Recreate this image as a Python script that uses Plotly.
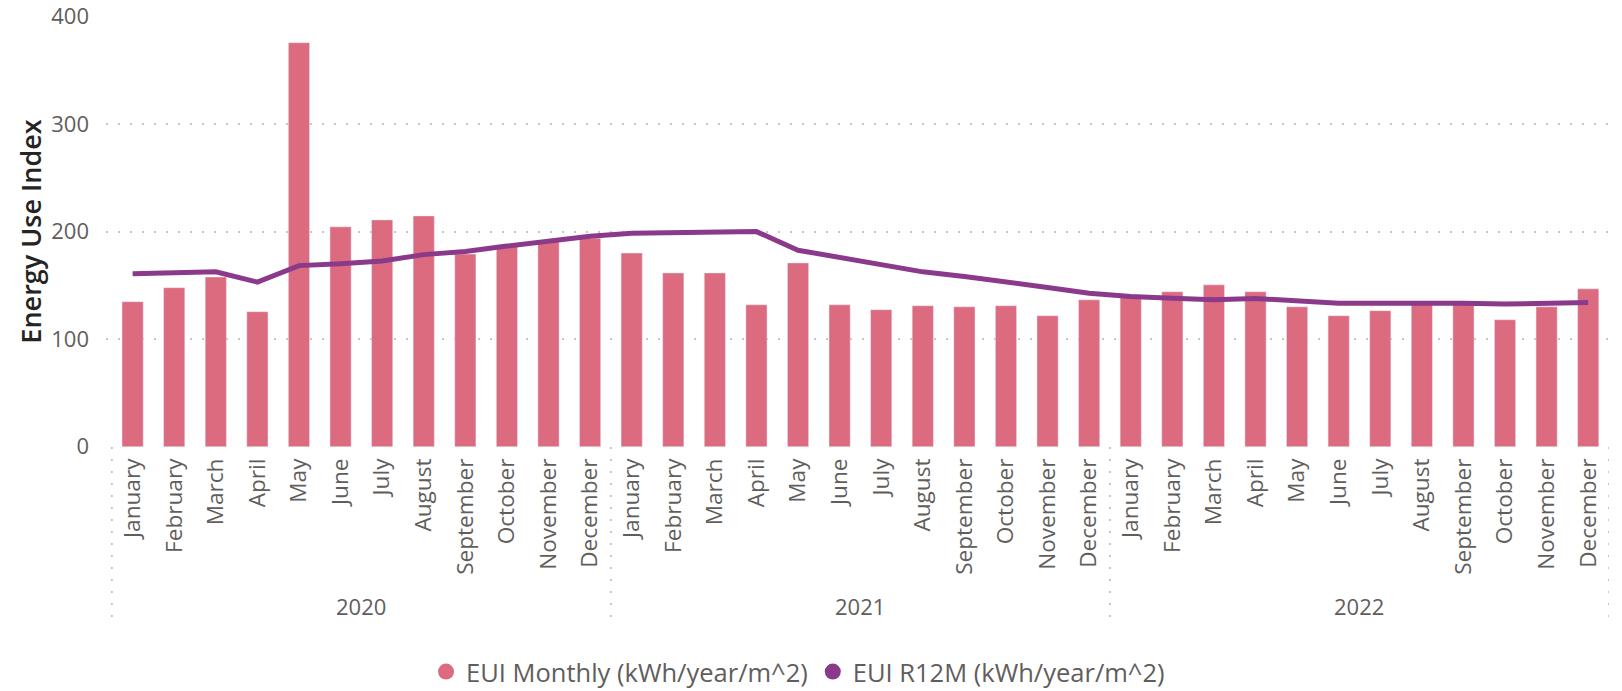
import plotly.graph_objects as go

years = ["2020", "2021", "2022"]
months = ["January", "February", "March", "April", "May", "June", "July",
          "August", "September", "October", "November", "December"]

eui_monthly = [134.8, 147.8, 157.7, 125.5, 375.5, 204.3, 210.8, 214.5, 179.0, 187.5, 191.0, 193.8,
               180.0, 161.5, 161.5, 131.9, 170.8, 131.9, 127.3, 131.0, 130.0, 131.0, 121.7, 136.5,
               139.0, 144.0, 150.4, 144.0, 130.0, 121.7, 126.4, 133.5, 132.5, 118.0, 130.0, 146.7]
eui_r12m = [160.8, 161.5, 162.5, 153.0, 168.3, 170.0, 172.5, 178.5, 181.5, 186.5, 190.5, 195.5,
            198.3, 198.9, 199.2, 199.9, 182.6, 176.0, 169.0, 162.5, 158.1, 153.5, 148.0, 142.7,
            139.6, 138.0, 136.5, 137.7, 135.0, 133.4, 133.4, 133.5, 133.4, 132.5, 133.4, 134.0]

y_ticks = [0, 100, 200, 300, 400]

BAR_COLOR = "#DD6B7F"
LINE_COLOR = "#8B3A8B"
GRID = "#C8C6C4"
TXT = "#605E5C"
FONT = "Open Sans"

n = len(years) * len(months)
x = list(range(n))
ticktext = months * len(years)

fig = go.Figure()
fig.add_trace(go.Bar(x=x, y=eui_monthly, marker_color=BAR_COLOR, showlegend=False,
                     name="EUI Monthly (kWh/year/m^2)"))
fig.add_trace(go.Scatter(x=x, y=eui_r12m, mode="lines", line=dict(color=LINE_COLOR, width=5),
                         showlegend=False, name="EUI R12M (kWh/year/m^2)"))
# legend entries (circle symbols)
fig.add_trace(go.Scatter(x=[None], y=[None], mode="markers", name="EUI Monthly (kWh/year/m^2)",
                         marker=dict(color=BAR_COLOR, size=19, symbol="circle")))
fig.add_trace(go.Scatter(x=[None], y=[None], mode="markers", name="EUI R12M (kWh/year/m^2)",
                         marker=dict(color=LINE_COLOR, size=19, symbol="circle")))

# year separators and labels
shapes = []
annotations = []
SEP_BOTTOM = -0.416
for i, yr in enumerate(years):
    start = i * len(months) - 0.5
    shapes.append(dict(type="line", xref="x", yref="paper", x0=start, x1=start, y0=0, y1=SEP_BOTTOM,
                       line=dict(color=GRID, width=2, dash="2px,10px")))
    annotations.append(dict(x=i * len(months) + (len(months) - 1) / 2, y=-0.370, xref="x", yref="paper",
                            text=yr, showarrow=False, yanchor="middle",
                            font=dict(family=FONT, size=22, color=TXT)))
shapes.append(dict(type="line", xref="x", yref="paper", x0=n - 0.5, x1=n - 0.5, y0=0, y1=SEP_BOTTOM,
                   line=dict(color=GRID, width=2, dash="2px,10px")))

fig.update_layout(
    width=1622, height=691,
    margin=dict(l=106, r=13, t=16, b=244, autoexpand=False),
    plot_bgcolor="white", paper_bgcolor="white",
    bargap=0.49,
    font=dict(family=FONT, color=TXT),
    shapes=shapes, annotations=annotations,
    legend=dict(orientation="h", xref="container", yref="container", x=0.492, xanchor="center",
                y=0.0275, yanchor="middle", font=dict(family=FONT, size=25.5, color=TXT),
                itemwidth=30, tracegroupgap=0),
    xaxis=dict(range=[-0.64, n - 0.5], tickmode="array", tickvals=x, ticktext=ticktext,
               tickangle=-90, tickfont=dict(family=FONT, size=22.6, color=TXT),
               showgrid=False, zeroline=False, showline=False, ticks="",
               ticklabelstandoff=6, automargin=False),
    yaxis=dict(range=[-0.3, 400.3], tickvals=y_ticks, showgrid=True, gridcolor=GRID, gridwidth=2,
               griddash="2px,10px", zeroline=False, showline=False, automargin=False,
               tickfont=dict(family=FONT, size=22, color=TXT), ticklabelstandoff=16,
               title=dict(text="Energy Use Index", standoff=1,
                          font=dict(family=FONT, size=27, color="#252423", weight=600))),
)

fig.write_html("out.html", config={"displayModeBar": False},
               post_script="document.body.style.margin='0';document.body.style.padding='0';document.body.style.overflow='hidden';")
